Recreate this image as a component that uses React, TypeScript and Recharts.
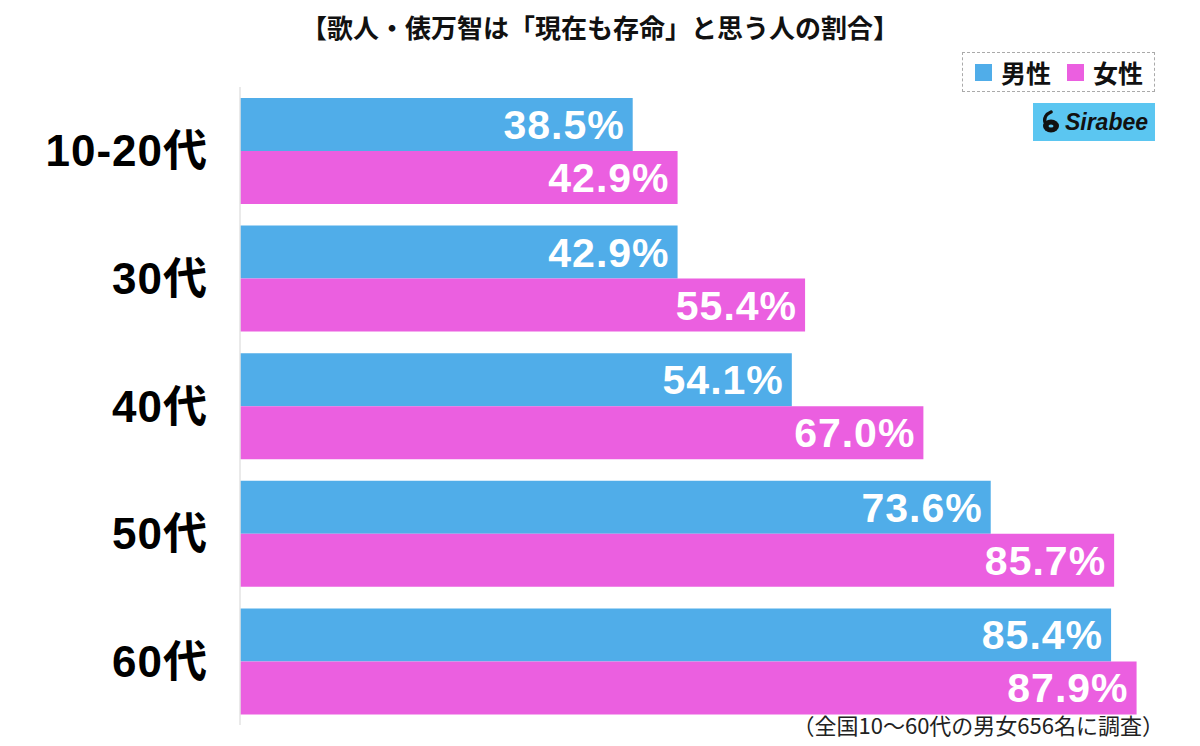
import React from "react";
import { Bar, BarChart, LabelList, XAxis, YAxis } from "recharts";

// 年代別「現在も存命」と思う人の割合 (%)
const ageGroups = ["10-20代", "30代", "40代", "50代", "60代"];
const maleValues = [38.5, 42.9, 54.1, 73.6, 85.4];
const femaleValues = [42.9, 55.4, 67.0, 85.7, 87.9];

const MALE = "#50ADE9";
const FEMALE = "#EB5FE0";
const JP = "'Noto Sans CJK JP', 'Noto Sans', sans-serif";
const NUM = "'Liberation Sans', 'Noto Sans CJK JP', sans-serif";

const data = ageGroups.map((age, i) => ({
  age,
  male: maleValues[i],
  female: femaleValues[i],
}));

const fmt = (v: number) => `${v.toFixed(1)}%`;

function LegendBox() {
  const item = (color: string, text: string) => (
    <div style={{ display: "flex", alignItems: "center", marginRight: 16, whiteSpace: "nowrap" }}>
      <div style={{ width: 17, height: 17, background: color, marginRight: 9 }} />
      <span style={{ fontSize: 25, fontWeight: 700, color: "#111", lineHeight: "30px" }}>{text}</span>
    </div>
  );
  return (
    <div
      style={{
        position: "absolute",
        left: 962,
        top: 52,
        width: 193,
        height: 40,
        boxSizing: "border-box",
        border: "1px dashed #aaa",
        display: "flex",
        alignItems: "center",
        paddingLeft: 12,
        fontFamily: JP,
        whiteSpace: "nowrap",
      }}
    >
      {item(MALE, "男性")}
      {item(FEMALE, "女性")}
    </div>
  );
}

function Logo() {
  return (
    <div
      style={{
        position: "absolute",
        left: 1033,
        top: 103,
        width: 122,
        height: 38,
        background: "#5BC6F1",
        display: "flex",
        alignItems: "center",
        justifyContent: "center",
      }}
    >
      <svg width="22" height="24" viewBox="0 0 22 24" style={{ marginRight: 3 }}>
        <path d="M11 2 C6 4 4 8 5 12" stroke="#111" strokeWidth="3.5" fill="none" strokeLinecap="round" />
        <ellipse cx="11" cy="16" rx="8" ry="6.5" fill="#111" />
        <ellipse cx="11" cy="16" rx="2.5" ry="1.5" fill="#5BC6F1" />
      </svg>
      <span
        style={{
          fontFamily: "'Liberation Sans', sans-serif",
          fontStyle: "italic",
          fontWeight: 700,
          fontSize: 23,
          color: "#111",
        }}
      >
        Sirabee
      </span>
    </div>
  );
}

export default function App() {
  return (
    <div style={{ position: "absolute", left: 0, top: 0, width: 1200, height: 746, background: "#fff" }}>
      <div
        style={{
          position: "absolute",
          left: 0,
          top: 8,
          width: 1200,
          textAlign: "center",
          fontFamily: JP,
          fontWeight: 700,
          fontSize: 26,
          color: "#111",
        }}
      >
        【歌人・俵万智は「現在も存命」と思う人の割合】
      </div>

      <BarChart
        width={1200}
        height={746}
        data={data}
        layout="vertical"
        margin={{ top: 87, right: 42, bottom: 21, left: 0 }}
        barGap={0}
        barCategoryGap={21}
      >
        <XAxis type="number" domain={[0, 90]} hide />
        <YAxis
          type="category"
          dataKey="age"
          width={240}
          axisLine={{ stroke: "#e3e3e3", strokeWidth: 1.5 }}
          tickLine={false}
          tickMargin={26}
          tick={{ fontSize: 44, fontWeight: 700, fill: "#000", fontFamily: NUM, letterSpacing: 1 }}
        />
        <Bar dataKey="male" fill={MALE} barSize={53} isAnimationActive={false}>
          <LabelList
            dataKey="male"
            position="insideRight"
            offset={8}
            formatter={(v: number) => fmt(v)}
            style={{ fill: "#fff", fontSize: 41, fontWeight: 700, fontFamily: NUM, letterSpacing: 1 }}
          />
        </Bar>
        <Bar dataKey="female" fill={FEMALE} barSize={53} isAnimationActive={false}>
          <LabelList
            dataKey="female"
            position="insideRight"
            offset={8}
            formatter={(v: number) => fmt(v)}
            style={{ fill: "#fff", fontSize: 41, fontWeight: 700, fontFamily: NUM, letterSpacing: 1 }}
          />
        </Bar>
      </BarChart>

      <LegendBox />
      <Logo />

      <div
        style={{
          position: "absolute",
          right: 36,
          top: 708,
          fontFamily: JP,
          fontSize: 22,
          color: "#222",
          whiteSpace: "nowrap",
        }}
      >
        （全国10〜60代の男女656名に調査）
      </div>
    </div>
  );
}
